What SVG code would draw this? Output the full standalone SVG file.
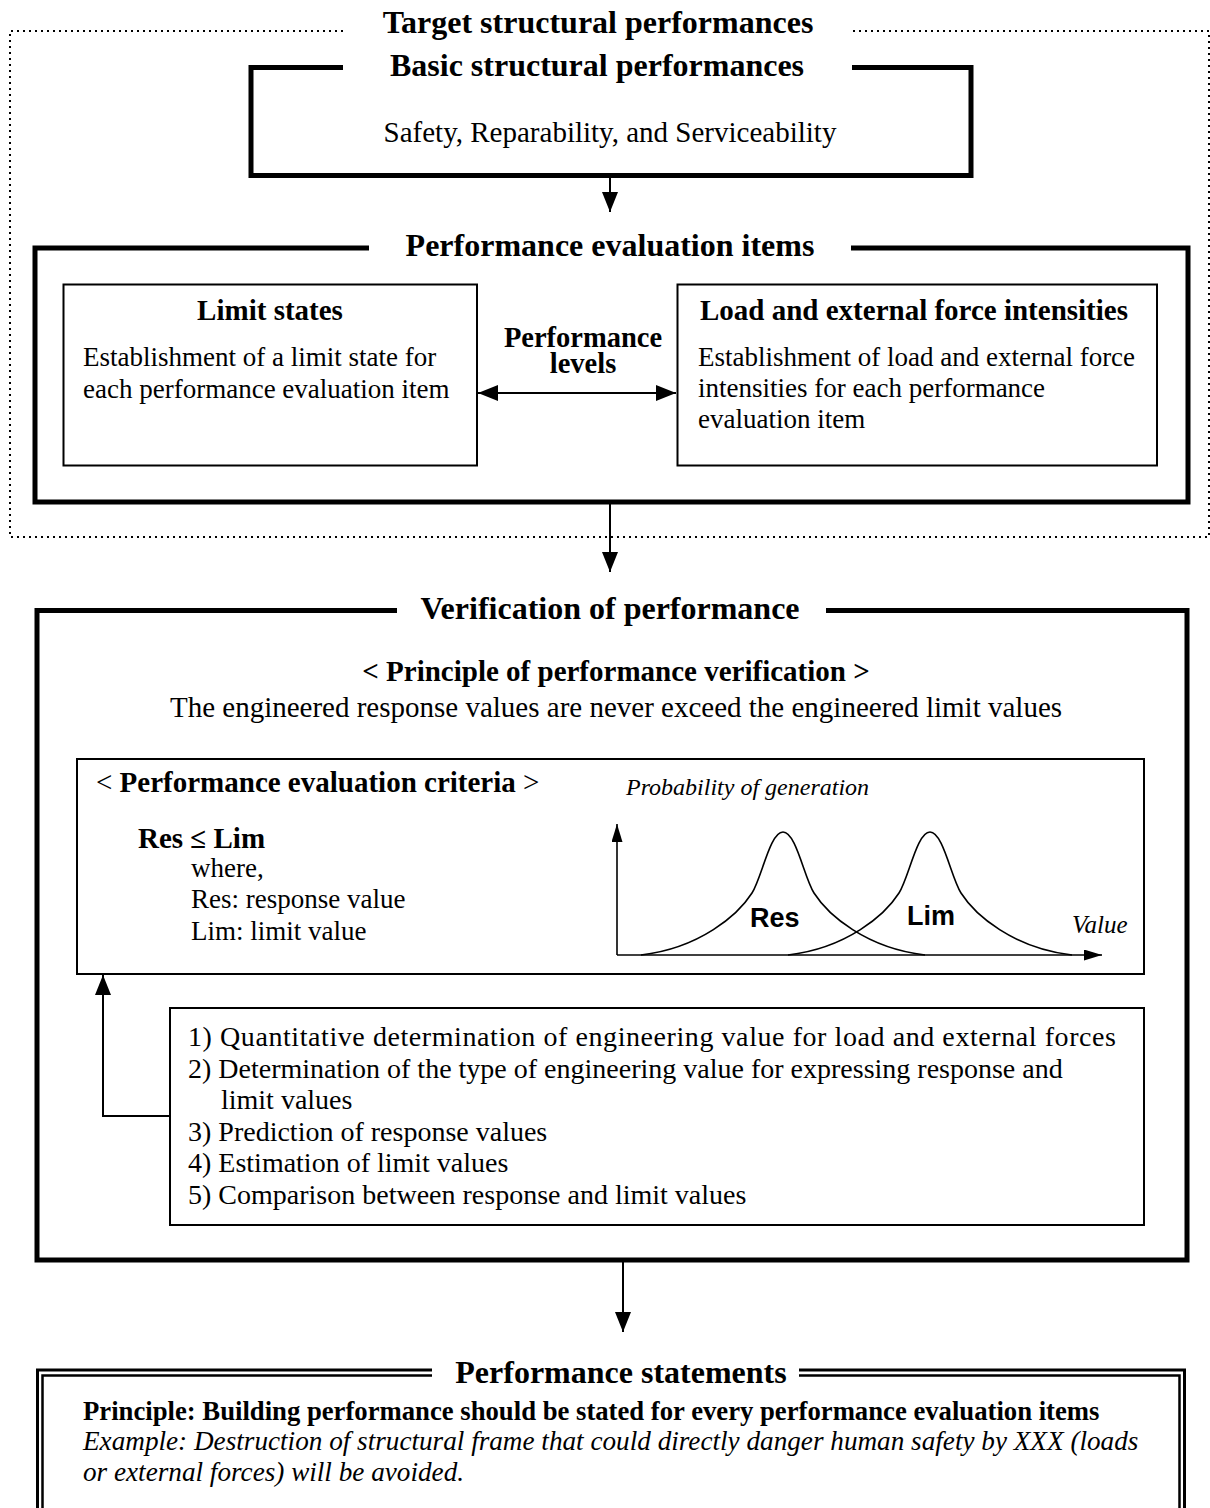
<svg xmlns="http://www.w3.org/2000/svg" width="1210" height="1508" viewBox="0 0 1210 1508">
<defs>
<style>
.t{font-family:"Liberation Serif","Times New Roman",serif;fill:#000}
.b{font-weight:bold}
.i{font-style:italic}
.s{font-family:"Liberation Sans",Arial,sans-serif;font-weight:bold;fill:#000}
.thick{fill:none;stroke:#000;stroke-width:5;stroke-linejoin:miter}
.thin{fill:none;stroke:#000;stroke-width:2}
.dot{fill:none;stroke:#000;stroke-width:2;stroke-dasharray:2 4}
.con{fill:none;stroke:#000;stroke-width:2}
.ax{fill:none;stroke:#000;stroke-width:1.6}
</style>
<marker id="ah" viewBox="0 0 20 16" refX="20" refY="8" markerWidth="20" markerHeight="16" orient="auto-start-reverse" markerUnits="userSpaceOnUse"><path d="M0,0 L20,8 L0,16 z" fill="#000"/></marker>
<marker id="ahs" viewBox="0 0 18 11" refX="18" refY="5.5" markerWidth="18" markerHeight="11" orient="auto" markerUnits="userSpaceOnUse"><path d="M0,0 L18,5.5 L0,11 z" fill="#000"/></marker>
</defs>
<rect width="1210" height="1508" fill="#fff"/>

<g id="target">
<path class="dot" d="M343,31 H10 V537 H1209 V31 H852"/>
<text class="t b" x="598" y="33" font-size="32" text-anchor="middle">Target structural performances</text>
</g>

<g id="basic">
<path class="thick" d="M343,67.5 H251 V175.5 H971 V67.5 H852"/>
<text class="t b" x="597" y="76" font-size="32" text-anchor="middle">Basic structural performances</text>
<text class="t" x="610" y="142" font-size="29" text-anchor="middle">Safety, Reparability, and Serviceability</text>
</g>

<g id="items">
<path class="thick" d="M369,248 H35 V502 H1188 V248 H851"/>
<text class="t b" x="610" y="256" font-size="32" text-anchor="middle">Performance evaluation items</text>
</g>

<g id="limit">
<rect class="thin" x="63.5" y="284.5" width="413.5" height="181"/>
<text class="t b" x="270" y="320" font-size="29" text-anchor="middle">Limit states</text>
<text class="t" x="83" y="366" font-size="27">Establishment of a limit state for</text>
<text class="t" x="83" y="398" font-size="27">each performance evaluation item</text>
</g>

<g id="load">
<rect class="thin" x="677.5" y="284.5" width="479.5" height="181"/>
<text class="t b" x="914" y="320" font-size="29" text-anchor="middle">Load and external force intensities</text>
<text class="t" x="698" y="366" font-size="27">Establishment of load and external force</text>
<text class="t" x="698" y="397" font-size="27">intensities for each performance</text>
<text class="t" x="698" y="428" font-size="27">evaluation item</text>
</g>

<g id="levels">
<text class="t b" x="583" y="347" font-size="28.5" text-anchor="middle">Performance</text>
<text class="t b" x="583" y="373" font-size="28.5" text-anchor="middle">levels</text>
</g>

<g id="verification">
<path class="thick" d="M397,610.5 H37 V1260 H1187 V610.5 H826"/>
<text class="t b" x="610" y="619" font-size="32" text-anchor="middle">Verification of performance</text>
<text class="t b" x="616" y="681" font-size="29" text-anchor="middle">&lt; Principle of performance verification &gt;</text>
<text class="t" x="616" y="717" font-size="29" text-anchor="middle">The engineered response values are never exceed the engineered limit values</text>
</g>

<g id="criteria">
<rect class="thin" x="77" y="759" width="1067" height="215"/>
<text class="t" x="96" y="792" font-size="29">&lt; <tspan class="b">Performance evaluation criteria</tspan> &gt;</text>
<text class="t b" x="138" y="848" font-size="29">Res ≤ Lim</text>
<text class="t" x="191" y="877" font-size="27">where,</text>
<text class="t" x="191" y="908" font-size="27">Res: response value</text>
<text class="t" x="191" y="940" font-size="27">Lim: limit value</text>
<text class="t i" x="626" y="795" font-size="24">Probability of generation</text>
<path class="ax" d="M617,955 V824" marker-end="url(#ahs)"/>
<path class="ax" d="M617,955 H1102" marker-end="url(#ahs)"/>
<path class="ax" d="M641,955 C700,948 738,915 752,893 C762,877 770,832 783,832 C796,832 804,877 814,893 C828,915 866,948 925,955"/>
<path class="ax" d="M788,955 C847,948 885,915 899,893 C909,877 917,832 930,832 C943,832 951,877 961,893 C975,915 1013,948 1072,955"/>
<text class="s" x="750" y="927" font-size="27">Res</text>
<text class="s" x="907" y="925" font-size="27">Lim</text>
<text class="t i" x="1072" y="933" font-size="25">Value</text>
</g>

<g id="steps">
<rect class="thin" x="170" y="1008" width="974" height="217"/>
<text class="t" x="188" y="1046" font-size="28" textLength="928" lengthAdjust="spacing">1) Quantitative determination of engineering value for load and external forces</text>
<text class="t" x="188" y="1078" font-size="28">2) Determination of the type of engineering value for expressing response and</text>
<text class="t" x="221" y="1109" font-size="28">limit values</text>
<text class="t" x="188" y="1141" font-size="28">3) Prediction of response values</text>
<text class="t" x="188" y="1172" font-size="28">4) Estimation of limit values</text>
<text class="t" x="188" y="1204" font-size="28">5) Comparison between response and limit values</text>
</g>

<g id="statements">
<path fill="none" stroke="#000" stroke-width="3" d="M432,1370 H37.5 V1520 M1184.5,1520 V1370 H799"/>
<path fill="none" stroke="#000" stroke-width="2.5" d="M432,1375.5 H42.5 V1520 M1179.5,1520 V1375.5 H799"/>
<text class="t b" x="621" y="1383" font-size="32" text-anchor="middle">Performance statements</text>
<text class="t b" x="83" y="1420" font-size="26.7">Principle: Building performance should be stated for every performance evaluation items</text>
<text class="t i" x="83" y="1450" font-size="27.2">Example: Destruction of structural frame that could directly danger human safety by XXX (loads</text>
<text class="t i" x="83" y="1481" font-size="27.2">or external forces) will be avoided.</text>
</g>

<g id="connectors">
<path class="con" d="M610,178 V212" marker-end="url(#ah)"/>
<path class="con" d="M610,504 V572" marker-end="url(#ah)"/>
<path class="con" d="M478,393 H676" marker-start="url(#ah)" marker-end="url(#ah)"/>
<path class="con" d="M170,1116 H103 V975" marker-end="url(#ah)"/>
<path class="con" d="M623,1262 V1332" marker-end="url(#ah)"/>
</g>
</svg>
